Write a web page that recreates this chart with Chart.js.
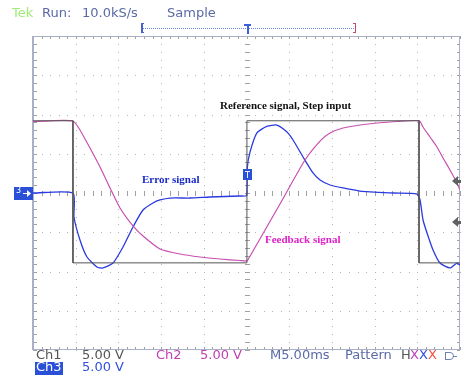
<!DOCTYPE html>
<html lang="en">
<head>
  <meta charset="UTF-8" />
  <title>Scope capture</title>
  <script src="https://cdn.jsdelivr.net/npm/chart.js"></script>
  <style>
    body { margin: 0; background: #fff; }
    canvas { display: block; }
  </style>
</head>
<body>
  <canvas id="scope" width="465" height="376"></canvas>

  <script>
    // time in ms (5 ms/div, 10 div), volts (5 V/div, 8 div)
    const refTime = [0, 4.68, 4.68, 25.05, 25.05, 45.2, 45.2, 50];
    const refVolts = [9.2, 9.2, -8.9, -8.9, 9.2, 9.2, -8.9, -8.9];

    const fbTime = [0, 2, 4.68, 5.5, 6.67, 7.85, 9.02, 10.19, 11.71, 12.88, 14.87, 17.21, 19.56, 21.9, 24.24, 25.06,
      25.29, 28.92, 31.85, 33.61, 34.78, 36.3, 38.29, 40.28, 42.62, 45.2, 45.67, 46.49, 47.31, 48.01, 48.83, 49.65, 50];
    const fbVolts = [9.1, 9.2, 9.17, 8.03, 5.73, 3.31, 0.64, -1.91, -4.2, -5.48, -7.13, -7.77, -8.15, -8.41, -8.6, -8.66,
      -8.28, -1.4, 4.2, 6.62, 7.64, 8.28, 8.66, 8.92, 9.11, 9.21, 8.41, 7.13, 5.86, 4.46, 2.93, 1.27, 0.38];

    const errTime = [0, 4.68, 4.8, 5.5, 6.32, 7.49, 8.2, 9.37, 10.54, 11.71, 12.88, 14.05, 14.87, 16.04, 18.38, 20.73, 24.24, 25.0,
      25.1, 25.41, 26.2, 27.37, 28.54, 29.71, 30.45, 31.62, 32.79, 33.61, 34.78, 36.3, 38.29, 42.15, 44.96,
      45.32, 45.67, 46.14, 46.84, 47.66, 48.83, 49.65, 50];
    const errVolts = [0, 0, -3.06, -5.99, -8.15, -9.43, -9.55, -8.92, -6.88, -4.33, -2.17, -1.27, -0.89, -0.64, -0.64, -0.51, -0.38, -0.3,
      3.3, 5.2, 7.64, 8.48, 8.66, 7.8, 6.75, 4.59, 2.55, 1.66, 1.02, 0.64, 0.25, 0, -0.13,
      -0.89, -3.44, -5.1, -7.26, -8.92, -9.55, -8.92, -9.2];

    const pts = (t, v) => t.map((x, i) => ({ x: x, y: v[i] }));

    // dotted scope graticule
    const graticule = {
      id: 'graticule',
      beforeDatasetsDraw(chart) {
        const { ctx, chartArea: a, scales: { x, y } } = chart;
        ctx.save();
        ctx.fillStyle = '#b4b4b4';
        for (let i = 1; i < 10; i++) {
          const px = Math.round(x.getPixelForValue(i * 5));
          for (let j = 0; j <= 40; j++) ctx.fillRect(px, Math.round(y.getPixelForValue(-20 + j)), 1, 1);
        }
        for (let i = -3; i <= 3; i++) {
          const py = Math.round(y.getPixelForValue(i * 5));
          for (let j = 0; j <= 50; j++) ctx.fillRect(Math.round(x.getPixelForValue(j)), py, 1, 1);
        }
        // centre cross ticks
        const cx = Math.round(x.getPixelForValue(25)), cy = Math.round(y.getPixelForValue(0));
        ctx.fillStyle = '#a0a0a0';
        for (let j = 0; j <= 50; j++) ctx.fillRect(Math.round(x.getPixelForValue(j)), cy - 2, 1, 5);
        for (let j = 0; j <= 40; j++) ctx.fillRect(cx - 2, Math.round(y.getPixelForValue(-20 + j)), 5, 1);
        // border ticks
        for (let j = 0; j <= 50; j++) {
          const px = Math.round(x.getPixelForValue(j));
          ctx.fillRect(px, a.top, 1, 3);
          ctx.fillRect(px, a.bottom - 3, 1, 3);
        }
        for (let j = 0; j <= 40; j++) {
          const py = Math.round(y.getPixelForValue(-20 + j));
          ctx.fillRect(a.left, py, 4, 1);
          ctx.fillRect(a.right - 3, py, 3, 1);
        }
        ctx.strokeStyle = '#aab0c6';
        ctx.lineWidth = 1;
        ctx.strokeRect(a.left + 0.5, a.top + 0.5, a.right - a.left - 1, a.bottom - a.top - 1);
        ctx.fillStyle = '#aab0c6';
        ctx.fillRect(a.left - 1, a.top, 2, a.bottom - a.top);
        ctx.restore();
      }
    };

    // readouts, labels and markers
    const readouts = {
      id: 'readouts',
      afterDatasetsDraw(chart) {
        const { ctx, scales: { x, y } } = chart;
        ctx.save();
        ctx.textBaseline = 'middle';
        ctx.font = '13px "DejaVu Sans"';
        const put = (s, px, py, c) => { ctx.fillStyle = c; ctx.fillText(s, px, py); };
        put('Tek', 12, 14, '#a0ec78');
        put('Run:', 42, 14, '#5a6aa6');
        put('10.0kS/s', 82, 14, '#5a6aa6');
        put('Sample', 167, 14, '#5a6aa6');

        put('Ch1', 36, 356, '#555555');
        put('5.00 V', 82, 356, '#555555');
        put('Ch2', 156, 356, '#c040b0');
        put('5.00 V', 200, 356, '#c040b0');
        put('M5.00ms', 270, 356, '#5a6aa6');
        put('Pattern', 345, 356, '#5a6aa6');
        put('H', 401, 356, '#555555');
        put('X', 410, 356, '#c040c0');
        put('X', 419, 356, '#3050e0');
        put('X', 428, 356, '#f05040');
        ctx.fillStyle = '#2a50d8';
        ctx.fillRect(35, 362, 28, 13);
        put('Ch3', 36, 368, '#ffffff');
        put('5.00 V', 82, 368, '#3050e0');

        // small gate icon
        ctx.strokeStyle = '#7080b0';
        ctx.beginPath();
        ctx.moveTo(445, 352.5); ctx.lineTo(450, 352.5); ctx.arc(450, 356, 3.5, -Math.PI / 2, Math.PI / 2); ctx.lineTo(445, 359.5);
        ctx.moveTo(445.5, 352); ctx.lineTo(445.5, 360); ctx.moveTo(453, 356.5); ctx.lineTo(457, 356.5);
        ctx.stroke();

        // record window bracket with trigger point
        const bl = x.getPixelForValue(12.65), br = x.getPixelForValue(37.75), bt = x.getPixelForValue(25);
        ctx.fillStyle = '#6a8ae8';
        for (let px = bl + 2; px < br; px += 2) ctx.fillRect(Math.round(px), 28, 1, 1);
        ctx.fillStyle = '#4a60c8';
        ctx.fillRect(Math.round(bl), 23, 2, 10); ctx.fillRect(Math.round(bl), 23, 3, 1); ctx.fillRect(Math.round(bl), 32, 3, 1);
        ctx.fillStyle = '#c05060';
        ctx.fillRect(Math.round(br), 23, 1, 10); ctx.fillRect(Math.round(br) - 2, 23, 3, 1); ctx.fillRect(Math.round(br) - 2, 32, 3, 1);
        ctx.fillStyle = '#3a60e0';
        ctx.fillRect(Math.round(bt) - 3, 24, 7, 2); ctx.fillRect(Math.round(bt), 24, 2, 10);

        // annotations
        ctx.font = 'bold 11px "Liberation Serif"';
        put('Reference signal, Step input', 220, 106, '#111111');
        put('Error signal', 142, 180, '#1a2ac8');
        put('Feedback signal', 265, 240, '#e020c8');

        // channel 3 ground marker
        const gy = Math.round(y.getPixelForValue(0));
        ctx.fillStyle = '#2a50d8';
        ctx.fillRect(14, gy - 6, 19, 13);
        ctx.fillStyle = '#ffffff';
        ctx.font = '8px "DejaVu Sans"';
        ctx.fillText('3', 16, gy - 2);
        ctx.fillRect(23, gy, 6, 1);
        ctx.beginPath(); ctx.moveTo(31, gy + 0.5); ctx.lineTo(27, gy - 3); ctx.lineTo(27, gy + 4); ctx.fill();

        // trigger marker on trace
        const tx = Math.round(x.getPixelForValue(25.05));
        ctx.fillStyle = '#2a50d8';
        ctx.fillRect(tx - 4, 169, 9, 11);
        ctx.fillStyle = '#e8ecff';
        ctx.fillRect(tx - 2, 171, 5, 1); ctx.fillRect(tx, 171, 1, 7);

        // right-hand level arrows
        ctx.fillStyle = '#606060';
        [181, 222].forEach(py => {
          ctx.beginPath(); ctx.moveTo(452, py); ctx.lineTo(458, py - 5); ctx.lineTo(458, py + 5); ctx.fill();
          ctx.fillRect(457, py - 1, 4, 3);
        });
        ctx.restore();
      }
    };

    new Chart(document.getElementById('scope').getContext('2d'), {
      type: 'line',
      data: {
        datasets: [
          { label: 'Reference', data: pts(refTime, refVolts), borderColor: '#555555', borderWidth: 1, tension: 0 },
          { label: 'Feedback', data: pts(fbTime, fbVolts), borderColor: '#c850b0', borderWidth: 1.2, tension: 0.2 },
          { label: 'Error', data: pts(errTime, errVolts), borderColor: '#2a3ae0', borderWidth: 1.3, tension: 0.2 }
        ]
      },
      options: {
        responsive: false,
        animation: false,
        layout: { padding: { left: 33, top: 36, right: 5, bottom: 26 } },
        elements: { point: { radius: 0 } },
        plugins: { legend: { display: false }, tooltip: { enabled: false } },
        scales: {
          x: { type: 'linear', min: 0, max: 50, display: false },
          y: { min: -20, max: 20, display: false }
        }
      },
      plugins: [graticule, readouts]
    });
  </script>
</body>
</html>
